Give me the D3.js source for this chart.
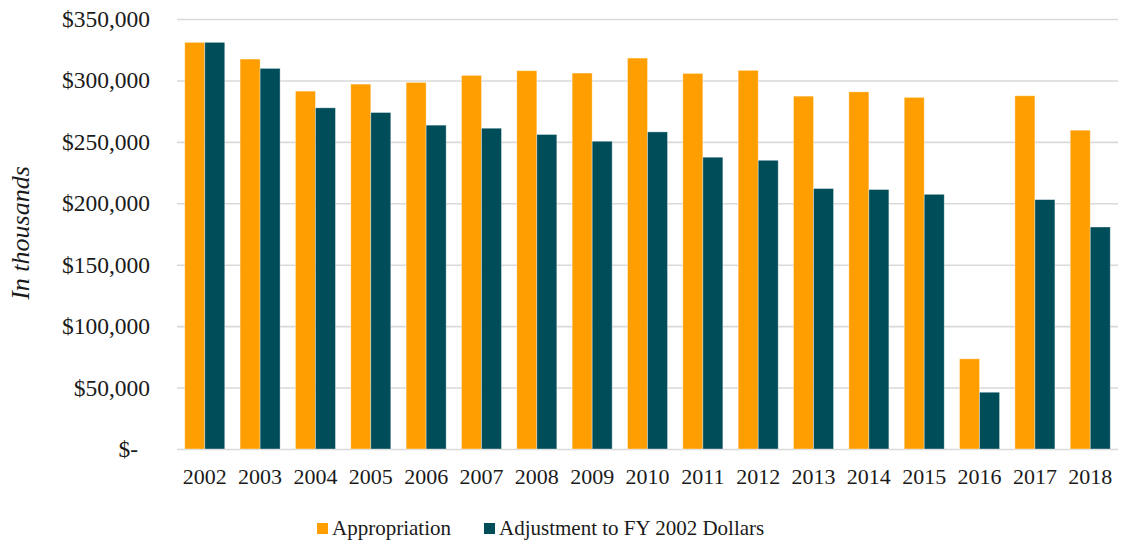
<!DOCTYPE html>
<html>
<head>
<meta charset="utf-8">
<script src="https://cdn.jsdelivr.net/npm/d3@7"></script>
<style>
  body { margin: 0; background: #fff; }
  text { font-family: "Liberation Serif", "Times New Roman", serif; fill: #1a1a1a; }
</style>
</head>
<body>
<div id="plot"></div>
<script>
// data, in thousands of dollars
const years = ["2002","2003","2004","2005","2006","2007","2008","2009","2010",
               "2011","2012","2013","2014","2015","2016","2017","2018"];
const appropriation = [331000, 317400, 291300, 297000, 298400, 304100, 307900, 306000, 318200,
                       305700, 308200, 287200, 290700, 286200, 73400, 287500, 259500];
const adjusted = [331000, 309800, 277700, 273900, 263600, 261100, 256000, 250500, 258100,
                  237500, 235000, 212000, 211200, 207300, 46200, 203000, 180700];
const seriesNames = ["Appropriation", "Adjustment to FY 2002 Dollars"];
const yTicks = [0, 50000, 100000, 150000, 200000, 250000, 300000, 350000];

const colors = ["#FF9E00", "#004D5A"];

const margin = {top: 19, right: 4, bottom: 92, left: 177},
  width = 1122 - margin.left - margin.right,
  height = 541 - margin.top - margin.bottom;

const svg = d3.select("#plot")
  .append("svg")
    .attr("width", 1122)
    .attr("height", 541)
  .append("g")
    .attr("transform", `translate(${margin.left},${margin.top})`);

const y = d3.scaleLinear().domain([0, 350000]).range([height, 0]);
const x = d3.scaleBand().domain(years).range([0, width]).paddingInner(0.277).paddingOuter(0.14);
const xs = d3.scaleBand().domain([0, 1]).range([0, x.bandwidth()]);

// gridlines + y labels
const fmt = d3.format(",");
const yAxis = svg.append("g")
  .call(d3.axisLeft(y).tickValues(yTicks).tickSize(-width)
    .tickFormat(d => d === 0 ? "$-" : "$" + fmt(d)));
yAxis.select(".domain").remove();
yAxis.selectAll(".tick line").attr("stroke", "#d9d9d9").attr("stroke-width", 1.6);
yAxis.selectAll(".tick text")
  .attr("x", d => d === 0 ? -39 : -27)
  .style("font-size", "23.5px");

// bars
const groups = svg.selectAll(".year")
  .data(years)
  .join("g")
    .attr("transform", d => `translate(${x(d)},0)`);

groups.selectAll("rect")
  .data((d, i) => [appropriation[i], adjusted[i]])
  .join("rect")
    .attr("x", (d, j) => xs(j))
    .attr("width", xs.bandwidth())
    .attr("y", d => y(d))
    .attr("height", d => height - y(d))
    .attr("fill", (d, j) => colors[j])
    .attr("stroke", "rgba(255,255,255,0.45)")
    .attr("stroke-width", 0.8);

// x labels
const xAxis = svg.append("g")
  .attr("transform", `translate(0,${height})`)
  .call(d3.axisBottom(x).tickSize(0).tickPadding(19));
xAxis.select(".domain").remove();
xAxis.selectAll(".tick text").style("font-size", "22px");

// y title
svg.append("text")
  .attr("transform", `translate(${-148},${233 - margin.top}) rotate(-90)`)
  .attr("text-anchor", "middle")
  .style("font-size", "26px")
  .style("font-style", "italic")
  .text("In thousands");

// legend
const legendX = [317 - margin.left, 484 - margin.left];
const legend = svg.selectAll(".legend")
  .data(seriesNames)
  .join("g")
    .attr("transform", (d, i) => `translate(${legendX[i]},${523 - margin.top})`);
legend.append("rect")
  .attr("width", 11).attr("height", 11)
  .attr("fill", (d, i) => colors[i]);
legend.append("text")
  .attr("x", 15).attr("y", 12)
  .style("font-size", "21px")
  .text(d => d);
</script>
</body>
</html>
